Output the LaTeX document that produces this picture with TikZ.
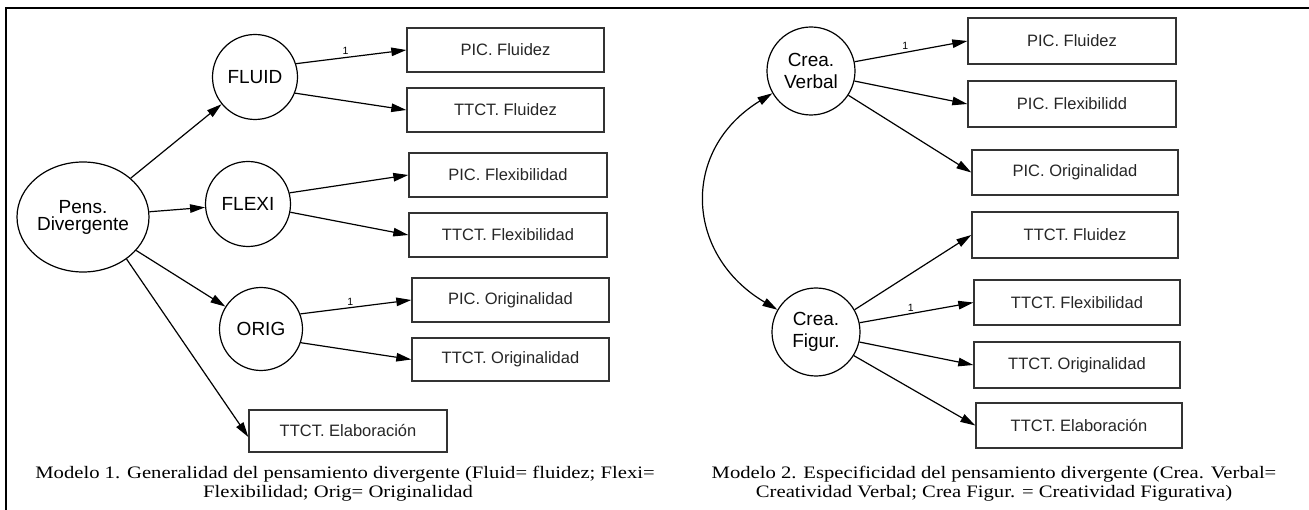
\documentclass[tikz,border=0pt]{standalone}
\usepackage{fontspec}
\setmainfont{Liberation Serif}
\setsansfont{Liberation Sans}
\newfontfamily\capfont[FakeStretch=1.18]{Liberation Serif}
\usetikzlibrary{shapes.geometric,arrows.meta}
\definecolor{boxline}{HTML}{333333}
\definecolor{boxtext}{HTML}{262626}
\tikzset{
  latent/.style={circle,draw=black,line width=1.2pt,minimum size=85pt,inner sep=0pt,
    font=\sffamily\fontsize{19}{22}\selectfont,align=center},
  obsbox/.style={rectangle,draw=boxline,line width=1.4pt,minimum height=44pt,inner sep=0pt,
    font=\sffamily\fontsize{16.5}{18}\selectfont,text=boxtext},
  path/.style={draw=black,line width=1.2pt,-{Triangle[length=15pt,width=8.5pt]}},
  biarrow/.style={draw=black,line width=1.2pt,{Triangle[length=15pt,width=8.5pt]}-{Triangle[length=15pt,width=8.5pt]}},
  onelbl/.style={font=\sffamily\fontsize{10.5}{11}\selectfont,inner sep=2pt},
  caption/.style={font=\capfont\fontsize{17.5}{19.5}\selectfont,anchor=base,inner sep=0pt},
  frame/.style={draw=black,line width=2.4pt}
}
\begin{document}
\begin{tikzpicture}[x=1pt,y=-1pt]
\useasboundingbox (0,0) rectangle (1309,510);
% frame
\draw[frame] (6,510) -- (6,8) -- (1309,8);

% ---------- Model 1 ----------
\node[ellipse,draw=black,line width=1.2pt,minimum width=132pt,minimum height=110pt,inner sep=0pt,
  font=\sffamily\fontsize{19}{17}\selectfont,align=center] (pens) at (83,217) {Pens.\\Divergente};
\node[latent] (fluid) at (255,77) {FLUID};
\node[latent] (flexi) at (248,204) {FLEXI};
\node[latent,minimum size=83pt] (orig) at (261,329) {ORIG};

\node[obsbox,minimum width=197pt] (pf) at (505.5,50) {PIC. Fluidez};
\node[obsbox,minimum width=197pt] (tf) at (505.5,110) {TTCT. Fluidez};
\node[obsbox,minimum width=198pt] (pfx) at (508,175) {PIC. Flexibilidad};
\node[obsbox,minimum width=198pt] (tfx) at (508,235) {TTCT. Flexibilidad};
\node[obsbox,minimum width=197pt] (po) at (510.5,300) {PIC. Originalidad};
\node[obsbox,minimum width=197pt,minimum height=43pt] (to) at (510.5,359.5) {TTCT. Originalidad};
\node[obsbox,minimum width=198pt,minimum height=42pt] (el) at (348,431) {TTCT. Elaboración};

\draw[path] (pens) -- (fluid);
\draw[path] (pens) -- (flexi);
\draw[path] (pens) -- (orig);
\draw[path] (pens.-44) -- ([yshift=-6pt]el.west);

\draw[path] (fluid.18) -- node[onelbl,pos=0.45,above] {1} (pf.west);
\draw[path] (fluid.-22) -- (tf.west);
\draw[path] (flexi.15) -- (pfx.west);
\draw[path] (flexi.-11) -- (tfx.west);
\draw[path] (orig.21) -- node[onelbl,pos=0.45,above] {1} (po.west);
\draw[path] (orig.-19) -- (to.west);

\node[caption] (cap1a) at (345,478) {Modelo 1. Generalidad del pensamiento divergente (Fluid= fluidez; Flexi=};
\node[caption] (cap1b) at (338,497) {Flexibilidad; Orig= Originalidad};

% ---------- Model 2 ----------
\node[latent,minimum size=88pt] (cv) at (811,71) {Crea.\\Verbal};
\node[latent,minimum size=88pt] (cf) at (816,332) {Crea.\\Figur.};

\node[obsbox,minimum width=208pt,minimum height=46pt] (rpf) at (1072,41) {PIC. Fluidez};
\node[obsbox,minimum width=208pt,minimum height=46pt] (rpfx) at (1072,104) {PIC. Flexibilidd};
\node[obsbox,minimum width=206pt,minimum height=45pt] (rpo) at (1075,172.5) {PIC. Originalidad};
\node[obsbox,minimum width=206pt,minimum height=46pt] (rtf) at (1075,235) {TTCT. Fluidez};
\node[obsbox,minimum width=206pt,minimum height=45pt] (rtfx) at (1077,302.5) {TTCT. Flexibilidad};
\node[obsbox,minimum width=206pt,minimum height=46pt] (rto) at (1077,365) {TTCT. Originalidad};
\node[obsbox,minimum width=206pt,minimum height=45pt] (rel) at (1079,425.5) {TTCT. Elaboración};

\draw[path] (cv.12) -- node[onelbl,pos=0.45,above] {1} (rpf.west);
\draw[path] (cv.-13) -- (rpfx.west);
\draw[path] (cv.-33) -- (rpo.west);
\draw[path] (cf.30) -- (rtf.west);
\draw[path] (cf.12) -- node[onelbl,pos=0.45,above] {1} (rtfx.west);
\draw[path] (cf.-13) -- (rto.west);
\draw[path] (cf.-32) -- (rel.west);

\draw[biarrow] (cv.210) .. controls (680,150) and (685,255) .. (cf.150);

\node[caption] (cap2a) at (994,478) {Modelo 2. Especificidad del pensamiento divergente (Crea. Verbal=};
\node[caption] (cap2b) at (994,497) {Creatividad Verbal; Crea Figur. = Creatividad Figurativa)};
\end{tikzpicture}
\end{document}
